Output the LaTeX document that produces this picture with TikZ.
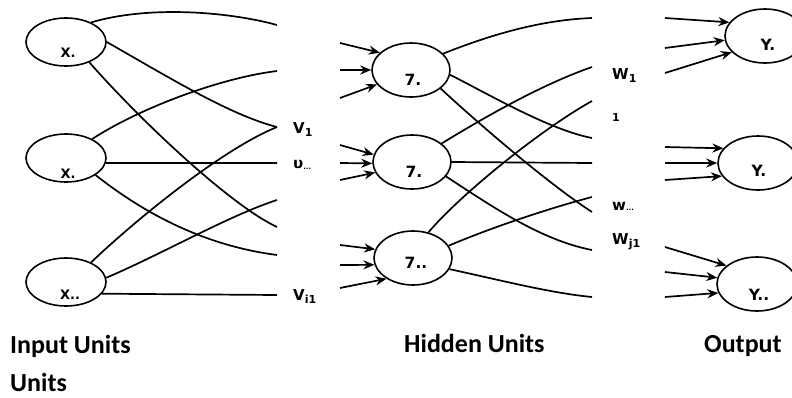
\documentclass[tikz,border=0pt]{standalone}
\usepackage{fontspec}
\setmainfont{DejaVu Sans}
\newfontfamily\calib{Carlito}
\usetikzlibrary{arrows.meta,shapes.geometric}
\begin{document}
\begin{tikzpicture}[x=1pt,y=-1pt,
  unit/.style={draw,line width=1.6pt,ellipse,inner sep=0pt},
  inunit/.style={unit,minimum width=80pt,minimum height=48pt},
  hidunit/.style={unit,minimum width=78pt,minimum height=54pt},
  outunit/.style={unit,minimum width=80pt,minimum height=54pt},
  wire/.style={line width=1.7pt},
  arr/.style={line width=1.7pt,-{Stealth[length=11pt,width=9pt]}},
  lab/.style={font=\bfseries\fontsize{13}{13}\selectfont,inner sep=0pt},
  biglab/.style={font=\bfseries\fontsize{15.5}{15.5}\selectfont,inner sep=0pt},
  wlab/.style={font=\bfseries\fontsize{15}{15}\selectfont,inner sep=0pt,anchor=base west},
  caption/.style={font=\calib\bfseries\fontsize{26}{26}\selectfont,inner sep=0pt,anchor=base west}]
\useasboundingbox (0,0) rectangle (792,397);
\clip (0,0) rectangle (792,397);
% input units
\node[inunit] (x1) at (66,42) {};
\node[inunit] (x2) at (66,158) {};
\node[inunit] (x3) at (66,282) {};
\node[lab] (lx1) at (68,53) {X.};
\node[lab] (lx2) at (68,174) {X.};
\node[lab] (lx3) at (70,295) {X..};
% hidden units
\node[hidunit] (z1) at (411,70) {};
\node[hidunit] (z2) at (412,162) {};
\node[hidunit] (z3) at (413,258) {};
\node[biglab] (lz1) at (413,80) {7.};
\node[biglab] (lz2) at (414,172) {7.};
\node[biglab] (lz3) at (416,263) {7..};
% output units
\node[outunit] (y1) at (765,36) {};
\node[outunit] (y2) at (758,163) {};
\node[outunit] (y3) at (757,284) {};
\node[biglab] (ly1) at (768,45) {Y.};
\node[biglab] (ly2) at (759,171) {Y.};
\node[biglab] (ly3) at (759,295) {Y..};
% left wire ends
\coordinate (a1) at (277,25);
\coordinate (a2) at (277,71);
\coordinate (a3) at (277,127);
\coordinate (a4) at (277,163);
\coordinate (a5) at (277,200);
\coordinate (a6) at (277,227);
\coordinate (a7) at (277,255);
\coordinate (a8) at (277,295);
\draw[wire] (x1.38) .. controls (150,5) and (230,12) .. (a1);
\draw[wire] (x1.0) .. controls (170,78) and (230,115) .. (a3);
\draw[wire] (x1.-41) .. controls (140,120) and (230,205) .. (a6);
\draw[wire] (x2.36) .. controls (140,108) and (220,78) .. (a2);
\draw[wire] (x2.-7) -- (a4);
\draw[wire] (x2.-30) .. controls (140,210) and (200,245) .. (a7);
\draw[wire] (x3.38) .. controls (130,225) and (220,150) .. (a3);
\draw[wire] (x3.6) .. controls (160,255) and (230,215) .. (a5);
\draw[wire] (x3.-18) -- (a8);
% v labels
\node[wlab] (v1) at (293,133) {V\raisebox{-3pt}{\fontsize{11}{11}\selectfont 1}};
\node[wlab] (v2) at (293,168) {υ\raisebox{-1pt}{\fontsize{7}{7}\selectfont ...}};
\node[wlab] (v3) at (293,300) {V\raisebox{-3pt}{\fontsize{11}{11}\selectfont i1}};
% arrows into hidden
\coordinate (h1) at (340,43);
\coordinate (h2) at (340,70);
\coordinate (h3) at (340,98);
\coordinate (h4) at (340,145);
\coordinate (h5) at (340,163);
\coordinate (h6) at (340,180);
\coordinate (h7) at (340,245);
\coordinate (h8) at (340,265);
\coordinate (h9) at (340,288);
\draw[arr] (h1) -- (z1.151);
\draw[arr] (h2) -- (z1.180);
\draw[arr] (h3) -- (z1.203);
\draw[arr] (h4) -- (z2.169);
\draw[arr] (h5) -- (z2.182);
\draw[arr] (h6) -- (z2.196);
\draw[arr] (h7) -- (z3.167);
\draw[arr] (h8) -- (z3.190);
\draw[arr] (h9) -- (z3.218);
% right wire ends
\coordinate (b1) at (592,18);
\coordinate (b2) at (592,67);
\coordinate (b3) at (592,101);
\coordinate (b4) at (592,138);
\coordinate (b5) at (592,163);
\coordinate (b6) at (592,197);
\coordinate (b7) at (592,212);
\coordinate (b8) at (592,250);
\coordinate (b9) at (592,297);
\draw[wire] (z1.27) .. controls (490,35) and (540,20) .. (b1);
\draw[wire] (z1.-7) .. controls (490,95) and (550,130) .. (b4);
\draw[wire] (z1.-32) .. controls (480,125) and (550,185) .. (b7);
\draw[wire] (z2.32) .. controls (480,120) and (540,85) .. (b2);
\draw[wire] (z2.east) -- (b5);
\draw[wire] (z2.-23) .. controls (490,205) and (540,240) .. (b8);
\draw[wire] (z3.59) .. controls (460,195) and (540,130) .. (b3);
\draw[wire] (z3.19) .. controls (490,228) and (550,208) .. (b6);
\draw[wire] (z3.-17) .. controls (500,280) and (550,293) .. (b9);
% w labels
\node[wlab] (w1) at (612,79) {W\raisebox{-3pt}{\fontsize{11}{11}\selectfont 1}};
\node[wlab,font=\bfseries\fontsize{11}{11}\selectfont] (w2) at (612,121) {1};
\node[wlab] (w3) at (612,210) {w\raisebox{0pt}{\fontsize{7}{7}\selectfont ...}};
\node[wlab] (w4) at (612,244) {W\raisebox{-3pt}{\fontsize{11}{11}\selectfont j1}};
% arrows into output
\coordinate (o1) at (665,18);
\coordinate (o2) at (665,48);
\coordinate (o3) at (665,73);
\coordinate (o4) at (665,147);
\coordinate (o5) at (665,163);
\coordinate (o6) at (665,180);
\coordinate (o7) at (665,247);
\coordinate (o8) at (665,272);
\coordinate (o9) at (665,297);
\draw[arr] (o1) -- (y1.159);
\draw[arr] (o2) -- (y1.186);
\draw[arr] (o3) -- (y1.206);
\draw[arr] (o4) -- (y2.157);
\draw[arr] (o5) -- (y2.180);
\draw[arr] (o6) -- (y2.200);
\draw[arr] (o7) -- (y3.149);
\draw[arr] (o8) -- (y3.171);
\draw[arr] (o9) -- (y3.193);
% captions
\node[caption] (c1) at (10,353) {Input Units};
\node[caption] (c2) at (10,391) {Units};
\node[caption] (c3) at (404,352) {Hidden Units};
\node[caption] (c4) at (704,352) {Output};
\end{tikzpicture}
\end{document}
